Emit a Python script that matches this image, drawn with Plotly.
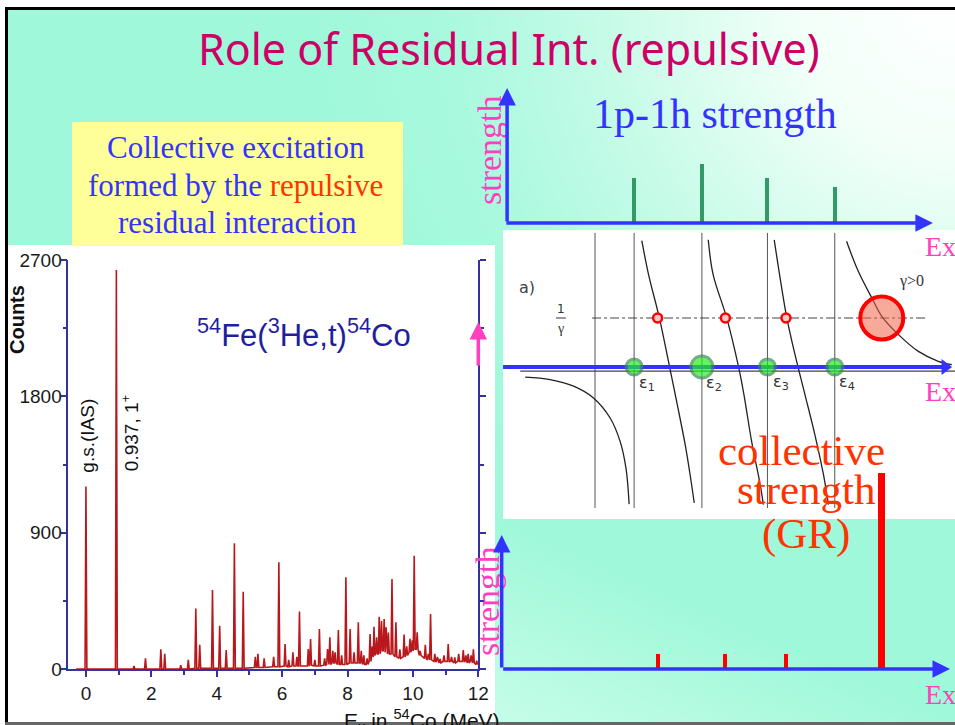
import base64
import plotly.graph_objects as go

W, H = 955, 725


def px(x):
    return x / W


def py(y):
    return 1 - y / H


# ---------------------------------------------------------------- data
# 54Fe(3He,t)54Co spectrum: peak energy (MeV), peak height and local background (counts)
peak_energy = [0.00, 0.93, 1.47, 1.82, 2.29, 2.41, 2.90, 3.13,
               3.36, 3.48, 3.87, 4.09, 4.29, 4.54, 4.81, 5.18, 5.26, 5.45, 5.74,
               5.90, 6.09, 6.20, 6.33, 6.45, 6.53, 6.80, 6.87, 7.00, 7.14, 7.30, 7.39,
               7.46, 7.55, 7.62, 7.72, 7.82, 7.95, 8.08, 8.20, 8.33, 8.42, 8.50, 8.60,
               8.69, 8.76, 8.81, 8.89, 8.97, 9.04, 9.12, 9.18, 9.25, 9.36, 9.48, 9.60,
               9.73, 9.81, 9.91, 9.98, 10.04, 10.13, 10.22,
               10.38, 10.47, 10.54, 10.67, 10.75, 10.83, 10.95, 11.08, 11.18, 11.28,
               11.40, 11.54, 11.62, 11.69, 11.78, 11.85, 11.95]
peak_counts = [1204, 2634, 20, 70, 130, 100, 25, 60,
               400, 160, 521, 286, 125, 830, 510, 80, 100, 70, 80,
               704, 165, 60, 110, 80, 380, 132, 198, 60, 264, 70, 132,
               209, 120, 110, 257, 90, 605, 264, 110, 308, 120, 90, 70,
               231, 150, 279, 209, 345, 317, 330, 275, 240, 594, 308, 130,
               227, 150, 200, 190, 748, 242, 120,
               160, 100, 363, 100, 80, 66, 90, 165, 80, 77,
               100, 125, 90, 100, 90, 130, 55]
peak_background = [0, 0, 0, 0, 0, 0, 0, 0,
                   5, 5, 5, 5, 5, 5, 5, 10, 10, 10, 15,
                   15, 20, 15, 20, 20, 20, 20, 25, 20, 20, 25, 30,
                   30, 40, 40, 30, 30, 30, 40, 40, 40, 40, 30, 30,
                   50, 80, 90, 100, 100, 120, 120, 110, 100, 100, 80, 70,
                   80, 90, 110, 120, 130, 130, 90,
                   70, 60, 60, 50, 50, 40, 50, 50, 50, 40,
                   50, 50, 50, 40, 50, 40, 30]
spectrum_start = (-0.30, 0)
spectrum_end = (12.0, 40)
counts_ticks = [0, 900, 1800, 2700]
energy_ticks = [0, 2, 4, 6, 8, 10, 12]

# Schematic RPA picture (arbitrary units along Ex)
eps = [2.90, 4.40, 5.85, 7.34]            # unperturbed 1p-1h energies
ph_strength = [3.3, 4.4, 3.3, 2.7]         # 1p-1h strengths
ph_marker = [16, 22, 16, 16]               # circle sizes on the Ex axis
roots = [3.42, 4.92, 6.26, 8.38]           # solutions of the dispersion relation
rpa_strength = [0.7, 0.7, 0.7, 9.4]        # resulting strengths (last = GR)
inv_gamma = 1.633                          # level of 1/gamma
ordinate_x = 2.035                         # vertical axis of the dispersion plot

# branches of the dispersion function
branch_x = [
    [0.49, 1.04, 1.56, 2.00, 2.37, 2.59, 2.72, 2.79],
    [3.07, 3.22, 3.46, 3.66, 3.84, 4.03, 4.15, 4.23],
    [4.54, 4.65, 4.95, 5.21, 5.33, 5.50, 5.69, 5.76],
    [6.00, 6.13, 6.28, 6.46, 6.68, 6.90, 7.09, 7.20],
    [7.60, 7.86, 8.16, 8.38, 8.75, 9.19, 9.63, 9.93],
]
branch_y = [
    [-0.34, -0.42, -0.64, -1.03, -1.70, -2.48, -3.37, -4.57],
    [4.21, 3.08, 1.63, 0.19, -1.14, -2.59, -3.70, -4.53],
    [4.24, 3.07, 1.63, 0.01, -0.92, -2.48, -3.92, -4.59],
    [4.24, 2.97, 1.63, 0.41, -0.92, -2.26, -3.59, -4.59],
    [4.19, 3.19, 2.30, 1.69, 1.08, 0.52, 0.19, 0.08],
]

# ---------------------------------------------------------------- styles
SERIF = "Liberation Serif, Times New Roman, serif"
NARROW = "Liberation Sans Narrow, Arial Narrow, Liberation Sans, Arial, sans-serif"
SANS = "DejaVu Sans, Liberation Sans, sans-serif"
TITLE_FONT = "Noto Sans, Open Sans, sans-serif"
BLUE = "#3333ff"
PINK = "#ff3fbf"
RED = "#ff0000"
ORANGE_RED = "#ff3300"
GREEN_BAR = "#339966"
NAVY = "#33339a"

# ---------------------------------------------------------------- background
svg = f"""<svg xmlns='http://www.w3.org/2000/svg' width='{W}' height='{H}' viewBox='0 0 {W} {H}' preserveAspectRatio='none'>
<defs>
<radialGradient id='g' gradientUnits='userSpaceOnUse' cx='955' cy='0' r='640'>
<stop offset='0' stop-color='#ffffff'/>
<stop offset='0.25' stop-color='#f2fff9'/>
<stop offset='0.55' stop-color='#c6fbe8'/>
<stop offset='0.8' stop-color='#a8f9de'/>
<stop offset='1' stop-color='#a0f8da'/>
</radialGradient>
<linearGradient id='h' x1='1' y1='0' x2='0' y2='1'>
<stop offset='0.5' stop-color='#a0f8da'/>
<stop offset='1' stop-color='#c6fde8'/>
</linearGradient>
</defs>
<rect width='{W}' height='{H}' fill='#ffffff'/>
<rect x='7' y='9' width='948' height='714' fill='url(#g)'/>
<rect x='495' y='519' width='460' height='204' fill='url(#h)'/>
</svg>"""
bg_src = "data:image/svg+xml;base64," + base64.b64encode(svg.encode()).decode()

fig = go.Figure()

# ---------------------------------------------------------------- spectrum
HW = 0.028
verts = [spectrum_start]
for e, c, b in zip(peak_energy, peak_counts, peak_background):
    verts += [(e - HW, b), (e, c), (e + HW, b)]
verts.append(spectrum_end)
verts.sort(key=lambda v: v[0])
fig.add_trace(go.Scatter(
    x=[v[0] for v in verts], y=[v[1] for v in verts], mode="lines",
    line=dict(color="#b8181c", width=1.6), xaxis="x", yaxis="y",
    hoverinfo="skip", showlegend=False))

# ---------------------------------------------------------------- 1p-1h strength (upper right)
fig.add_trace(go.Bar(
    x=eps, y=ph_strength, width=0.09, marker=dict(color=GREEN_BAR, line_width=0),
    xaxis="x2", yaxis="y2", showlegend=False, hoverinfo="skip"))

# ---------------------------------------------------------------- dispersion relation (middle)
vx, vy = [], []
for x in [ordinate_x] + eps:
    vx += [x, x, None]
    vy += [-4.7, 4.47, None]
fig.add_trace(go.Scatter(x=vx, y=vy, mode="lines", line=dict(color="#555555", width=1),
                         xaxis="x3", yaxis="y3", showlegend=False, hoverinfo="skip"))
fig.add_trace(go.Scatter(x=[0.38, 10], y=[-0.14, -0.14], mode="lines",
                         line=dict(color="#444444", width=1.2),
                         xaxis="x3", yaxis="y3", showlegend=False, hoverinfo="skip"))
fig.add_trace(go.Scatter(x=[1.97, 9.37], y=[inv_gamma, inv_gamma], mode="lines",
                         line=dict(color="#444444", width=1, dash="dashdot"),
                         xaxis="x3", yaxis="y3", showlegend=False, hoverinfo="skip"))
for bx, by in zip(branch_x, branch_y):
    fig.add_trace(go.Scatter(x=bx, y=by, mode="lines", line=dict(color="#222222", width=1.3, shape="spline"),
                             xaxis="x3", yaxis="y3", showlegend=False, hoverinfo="skip"))
fig.add_trace(go.Scatter(x=[0, 9.8], y=[0, 0], mode="lines", line=dict(color=BLUE, width=4),
                         xaxis="x3", yaxis="y3", showlegend=False, hoverinfo="skip"))
fig.add_trace(go.Scatter(x=[9.78], y=[0], mode="markers",
                         marker=dict(symbol="triangle-right", size=14, color=BLUE),
                         xaxis="x3", yaxis="y3", showlegend=False, hoverinfo="skip"))
fig.add_trace(go.Scatter(x=eps, y=[0] * len(eps), mode="markers",
                         marker=dict(size=ph_marker, color="#22ee22", line=dict(color="#3a8a55", width=3)),
                         xaxis="x3", yaxis="y3", showlegend=False, hoverinfo="skip"))
fig.add_trace(go.Scatter(x=roots[:3], y=[inv_gamma] * 3, mode="markers",
                         marker=dict(size=9, color="#ffc8c8", line=dict(color=RED, width=2.5)),
                         xaxis="x3", yaxis="y3", showlegend=False, hoverinfo="skip"))
fig.add_trace(go.Scatter(x=[roots[3]], y=[inv_gamma], mode="markers",
                         marker=dict(size=43, color="rgba(240,100,70,0.55)", line=dict(color=RED, width=4)),
                         xaxis="x3", yaxis="y3", showlegend=False, hoverinfo="skip"))

# ---------------------------------------------------------------- collective strength (lower right)
fig.add_trace(go.Bar(
    x=roots, y=rpa_strength, width=[0.09, 0.09, 0.09, 0.155],
    marker=dict(color=RED, line_width=0), xaxis="x4", yaxis="y4",
    showlegend=False, hoverinfo="skip"))

# ---------------------------------------------------------------- panels
shapes = [
    dict(type="rect", xref="paper", yref="paper", x0=px(8), x1=px(495), y0=py(723), y1=py(245),
         fillcolor="white", line_width=0, layer="below"),
    dict(type="rect", xref="paper", yref="paper", x0=px(503), x1=1, y0=py(519), y1=py(230),
         fillcolor="white", line_width=0, layer="below"),
    dict(type="rect", xref="paper", yref="paper", x0=px(72), x1=px(403), y0=py(246), y1=py(122),
         fillcolor="#ffff99", line_width=0, layer="below"),
    # slide frame
    dict(type="rect", xref="paper", yref="paper", x0=px(5), x1=1, y0=py(10), y1=py(7),
         fillcolor="black", line_width=0, layer="above"),
    dict(type="rect", xref="paper", yref="paper", x0=px(5), x1=px(8), y0=0, y1=py(7),
         fillcolor="black", line_width=0, layer="above"),
    dict(type="rect", xref="paper", yref="paper", x0=px(5), x1=1, y0=0, y1=py(722),
         fillcolor="#666666", line_width=0, layer="above"),
    # fraction bar of 1/gamma
    dict(type="line", xref="x3", yref="y3", x0=1.17, x1=1.39, y0=inv_gamma, y1=inv_gamma,
         line=dict(color="#333333", width=1)),
]


def label(text, x, y, size, color, family=SERIF, xref="paper", yref="paper", angle=0,
          xanchor="center", yanchor="middle"):
    return dict(text=text, x=x, y=y, xref=xref, yref=yref, showarrow=False, textangle=angle,
                font=dict(size=size, color=color, family=family), xanchor=xanchor, yanchor=yanchor)


def arrow(x0, y0, x1, y1, xref, yref, color, width, size=1.0):
    return dict(x=x1, y=y1, ax=x0, ay=y0, xref=xref, yref=yref, axref=xref, ayref=yref,
                showarrow=True, arrowhead=2, arrowsize=size, arrowwidth=width,
                arrowcolor=color, standoff=0, text="")


annotations = [
    label("Role of Residual Int. (repulsive)", px(509), py(49), 43, "#cc0066", family=TITLE_FONT),
    label("Collective excitation", px(236), py(147), 31, BLUE),
    label("formed by the <span style='color:#ff3300'>repulsive</span>", px(235), py(185), 31, BLUE),
    label("residual interaction", px(237), py(222), 31, BLUE),
    label("1p-1h strength", px(715), py(114), 42, BLUE),
    label("collective", px(801), py(451), 43, ORANGE_RED),
    label("strength", px(806), py(489), 43, ORANGE_RED),
    label("(GR)", px(806), py(534), 43, ORANGE_RED),
    label("strength", px(490), py(150), 34, PINK, angle=-90),
    label("strength", px(487), py(601), 34, PINK, angle=-90),
    label("Ex", px(923), py(246), 28, PINK, xanchor="left"),
    label("Ex", px(923), py(391), 28, PINK, xanchor="left"),
    label("Ex", px(923), py(694), 28, PINK, xanchor="left"),
    # spectrum texts
    label("<b>Counts</b>", px(17), py(320), 20, "#111111", family="Liberation Sans, Arial, sans-serif", angle=-90),
    label("g.s.(IAS)", 0.06, 1540, 19, "#111111", family=NARROW, xref="x", yref="y", angle=-90),
    label("0.937, 1<sup>+</sup>", 1.33, 1560, 19, "#111111", family=NARROW, xref="x", yref="y", angle=-90),
    label("<sup>54</sup>Fe(<sup>3</sup>He,t)<sup>54</sup>Co", 6.67, 2215, 31, "#1f1f9e",
          family=NARROW, xref="x", yref="y"),
    label("E<sub>x</sub> in <sup>54</sup>Co (MeV)", px(422), py(704), 21, "#111111",
          family=NARROW, yanchor="top"),
    # dispersion-plot texts
    label("a)", 0.53, 2.66, 16, "#444444", family=SANS, xref="x3", yref="y3"),
    label("1", 1.28, 1.93, 12, "#333333", family=SANS, xref="x3", yref="y3"),
    label("γ", 1.28, 1.28, 14, "#333333", family=SERIF, xref="x3", yref="y3"),
    label("γ>0", 9.04, 2.86, 16, "#333333", family=SERIF, xref="x3", yref="y3"),
    label("ε<sub>1</sub>", 3.18, -0.55, 16, "#333333", family=SANS, xref="x3", yref="y3"),
    label("ε<sub>2</sub>", 4.66, -0.55, 16, "#333333", family=SANS, xref="x3", yref="y3"),
    label("ε<sub>3</sub>", 6.16, -0.50, 16, "#333333", family=SANS, xref="x3", yref="y3"),
    label("ε<sub>4</sub>", 7.60, -0.50, 16, "#333333", family=SANS, xref="x3", yref="y3"),
    # axis arrows
    arrow(0.04, 0, 9.51, 0, "x2", "y2", BLUE, 3.5),
    arrow(0.09, 0, 0.09, 10.0, "x2", "y2", BLUE, 3.5),
    arrow(-0.03, 0, 9.89, 0, "x4", "y4", BLUE, 3.5),
    arrow(-0.03, 0, -0.03, 6.41, "x4", "y4", BLUE, 3.5),
    arrow(12.0, 1993, 12.0, 2290, "x", "y", PINK, 3.5),
]

right_x = dict(domain=[px(494), 1], range=[-0.2, 10], visible=False, fixedrange=True, automargin=False)
tick_font = dict(family=NARROW, size=19, color="#1a1a1a")

fig.update_layout(
    width=W, height=H, autosize=False,
    margin=dict(l=0, r=0, t=0, b=0, pad=0, autoexpand=False),
    paper_bgcolor="white", plot_bgcolor="rgba(0,0,0,0)",
    showlegend=False,
    images=[dict(source=bg_src, xref="paper", yref="paper", x=0, y=1, sizex=1, sizey=1,
                 sizing="stretch", xanchor="left", yanchor="top", layer="below")],
    shapes=shapes,
    annotations=annotations,
    xaxis=dict(domain=[px(68.3), px(478.3)], range=[-0.54, 12], anchor="y", automargin=False,
               tickvals=energy_ticks, ticks="outside", ticklen=6, tickwidth=1.5, tickcolor=NAVY,
               minor=dict(dtick=1, tick0=0, ticks="outside", ticklen=4, tickcolor=NAVY),
               showline=True, linecolor=NAVY, linewidth=2, showgrid=False, zeroline=False,
               tickfont=tick_font, fixedrange=True),
    yaxis=dict(domain=[py(669), py(260)], range=[0, 2700], anchor="x", automargin=False,
               tickvals=counts_ticks, ticks="outside", ticklen=6, tickwidth=1.5, tickcolor=NAVY,
               minor=dict(dtick=450, tick0=0, ticks="outside", ticklen=4, tickcolor=NAVY),
               showline=True, linecolor=NAVY, linewidth=1.5, mirror="ticks",
               showgrid=False, zeroline=False, ticklabelstandoff=-5,
               tickfont=tick_font, fixedrange=True),
    xaxis2=dict(right_x, anchor="y2"),
    yaxis2=dict(domain=[py(223), py(80)], range=[0, 143 / 13.5], visible=False, anchor="x2",
                fixedrange=True, automargin=False),
    xaxis3=dict(right_x, anchor="y3"),
    yaxis3=dict(domain=[py(519), py(230)], range=[-152 / 30, 137 / 30], visible=False, anchor="x3",
                fixedrange=True, automargin=False),
    xaxis4=dict(right_x, anchor="y4"),
    yaxis4=dict(domain=[py(669), py(460)], range=[0, 10], visible=False, anchor="x4",
                fixedrange=True, automargin=False),
    bargap=0,
)

fig.write_html("out.html", config={"displayModeBar": False})
